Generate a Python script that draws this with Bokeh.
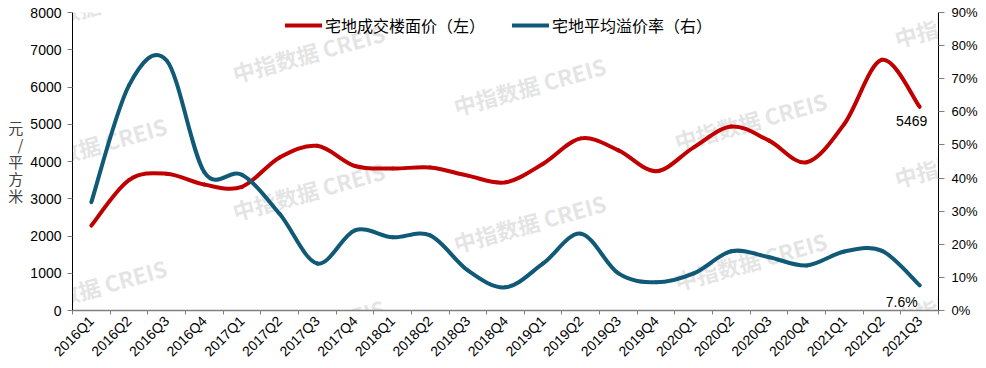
import numpy as np
from math import pi
from bokeh.plotting import figure
from bokeh.models import (Range1d, LinearAxis, FixedTicker, PrintfTickFormatter,
                          Legend, LegendItem, Label)
from bokeh.core.properties import value
from bokeh.embed import file_html
from bokeh.resources import INLINE

quarters = ["2016Q1", "2016Q2", "2016Q3", "2016Q4", "2017Q1", "2017Q2", "2017Q3", "2017Q4",
            "2018Q1", "2018Q2", "2018Q3", "2018Q4", "2019Q1", "2019Q2", "2019Q3", "2019Q4",
            "2020Q1", "2020Q2", "2020Q3", "2020Q4", "2021Q1", "2021Q2", "2021Q3"]
price = [2280, 3500, 3670, 3380, 3320, 4110, 4420, 3880, 3810, 3840, 3620, 3440,
         3940, 4620, 4300, 3740, 4380, 4940, 4560, 3980, 5010, 6730, 5469]
rate = [32.7, 68.0, 75.5, 41.8, 41.0, 29.2, 14.2, 24.2, 22.1, 22.7, 12.1, 7.0,
        14.2, 23.2, 11.2, 8.5, 11.2, 17.9, 16.1, 13.6, 17.8, 18.0, 7.6]
left_ticks = [0, 1000, 2000, 3000, 4000, 5000, 6000, 7000, 8000]
right_ticks = [0, 10, 20, 30, 40, 50, 60, 70, 80, 90]

RED = "#C00000"
BLUE = "#105A78"
FONT = "Liberation Sans"
CJK = "Noto Sans CJK SC"

n = len(quarters)
xs = np.arange(n) + 0.5

p = figure(width=986, height=368, output_backend="svg", toolbar_location=None,
           x_range=Range1d(0, n), y_range=Range1d(0, 8000),
           min_border_left=72, min_border_right=48, min_border_top=12, min_border_bottom=58)
p.extra_y_ranges = {"pct": Range1d(0, 90)}
p.xgrid.visible = False
p.ygrid.visible = False
p.outline_line_color = None
p.background_fill_color = "white"
p.border_fill_color = "white"


def smooth(ax, ay):
    ax = np.asarray(ax, float)
    ay = np.asarray(ay, float)
    px = np.concatenate([[ax[0]], ax, [ax[-1]]])
    py = np.concatenate([[ay[0]], ay, [ay[-1]]])
    x0, y0 = px[1:-2], py[1:-2]
    x1, y1 = px[2:-1], py[2:-1]
    cx0 = x0 + (px[2:-1] - px[:-3]) / 6
    cy0 = y0 + (py[2:-1] - py[:-3]) / 6
    cx1 = x1 - (px[3:] - px[1:-2]) / 6
    cy1 = y1 - (py[3:] - py[1:-2]) / 6
    return dict(x0=x0, y0=y0, x1=x1, y1=y1, cx0=cx0, cy0=cy0, cx1=cx1, cy1=cy1)


# watermarks (decoration), page pixel anchors converted to data coordinates
wm_px = [(90, 5), (90, 145), (90, 287),
         (308, 52), (308, 190), (308, 327),
         (529, 85), (529, 222), (529, 360),
         (750, 120), (750, 260),
         (970, 17), (970, 157), (970, 297)]
for (wx, wy) in wm_px:
    dx = (wx - 72) / 866 * n
    dy = (310 - wy) / 298 * 8000
    p.add_layout(Label(x=dx, y=dy, text="中指数据 CREIS", angle=0.27,
                       text_align="center", text_baseline="middle",
                       text_font=CJK, text_font_size="22px", text_font_style="bold",
                       text_color="#dcdcdc", text_alpha=0.75, level="underlay"))

r_price = p.bezier(line_color=RED, line_width=4, line_cap="round", **smooth(xs, price))
r_rate = p.bezier(line_color=BLUE, line_width=4, line_cap="round", y_range_name="pct",
                  **smooth(xs, rate))

p.text(x=[xs[-1]], y=[price[-1]], text=[f"{price[-1]}"], x_offset=-8, y_offset=14,
       text_align="center", text_baseline="middle", text_font=value(FONT),
       text_font_size="14px", text_color="black")
p.text(x=[xs[-1]], y=[rate[-1]], text=[f"{rate[-1]}%"], x_offset=-18, y_offset=17,
       text_align="center", text_baseline="middle", text_font=value(FONT),
       text_font_size="14px", text_color="black", y_range_name="pct")

# x axis
xa = p.xaxis[0]
xa.ticker = FixedTicker(ticks=list(xs), minor_ticks=list(range(n + 1)))
xa.major_label_overrides = {float(x): q for x, q in zip(xs, quarters)}
xa.major_label_orientation = pi / 4
xa.major_tick_line_color = None
xa.major_tick_out = 0
xa.major_tick_in = 0
xa.minor_tick_line_color = "#808080"
xa.minor_tick_out = 4
xa.minor_tick_in = 0
xa.axis_line_color = "#808080"
xa.axis_line_width = 1.5
xa.major_label_standoff = 4
xa.major_label_text_font = FONT
xa.major_label_text_font_size = "14px"
xa.major_label_text_color = "black"

# left axis
ya = p.yaxis[0]
ya.ticker = FixedTicker(ticks=left_ticks)
ya.minor_tick_line_color = None
ya.major_tick_out = 5
ya.major_tick_in = 0
ya.major_tick_line_color = "#808080"
ya.axis_line_color = "black"
ya.major_label_standoff = 6
ya.major_label_text_font = FONT
ya.major_label_text_font_size = "14px"
ya.major_label_text_color = "black"
ya.axis_label = "元\n/\n平\n方\n米"
ya.axis_label_orientation = "horizontal"
ya.axis_label_text_font = CJK
ya.axis_label_text_font_style = "normal"
ya.axis_label_text_font_size = "15px"
ya.axis_label_text_line_height = 0.8
ya.axis_label_standoff = 4

# right axis
ra = LinearAxis(y_range_name="pct", ticker=FixedTicker(ticks=right_ticks),
                formatter=PrintfTickFormatter(format="%d%%"))
ra.minor_tick_line_color = None
ra.major_tick_out = 6
ra.major_tick_in = 0
ra.major_tick_line_color = "#808080"
ra.axis_line_color = "black"
ra.major_label_standoff = 7
ra.major_label_text_font = FONT
ra.major_label_text_font_size = "13px"
ra.major_label_text_color = "black"
p.add_layout(ra, "right")

legend = Legend(items=[LegendItem(label="宅地成交楼面价（左）", renderers=[r_price]),
                       LegendItem(label="宅地平均溢价率（右）", renderers=[r_rate])],
                orientation="horizontal", location=(213, 273),
                border_line_color=None, background_fill_alpha=0,
                glyph_width=37, glyph_height=20, label_standoff=3, spacing=27,
                padding=0, margin=0, label_text_font=CJK, label_text_font_size="16px",
                label_text_color="black")
p.add_layout(legend)

open("out.html", "w").write(file_html(p, INLINE))
